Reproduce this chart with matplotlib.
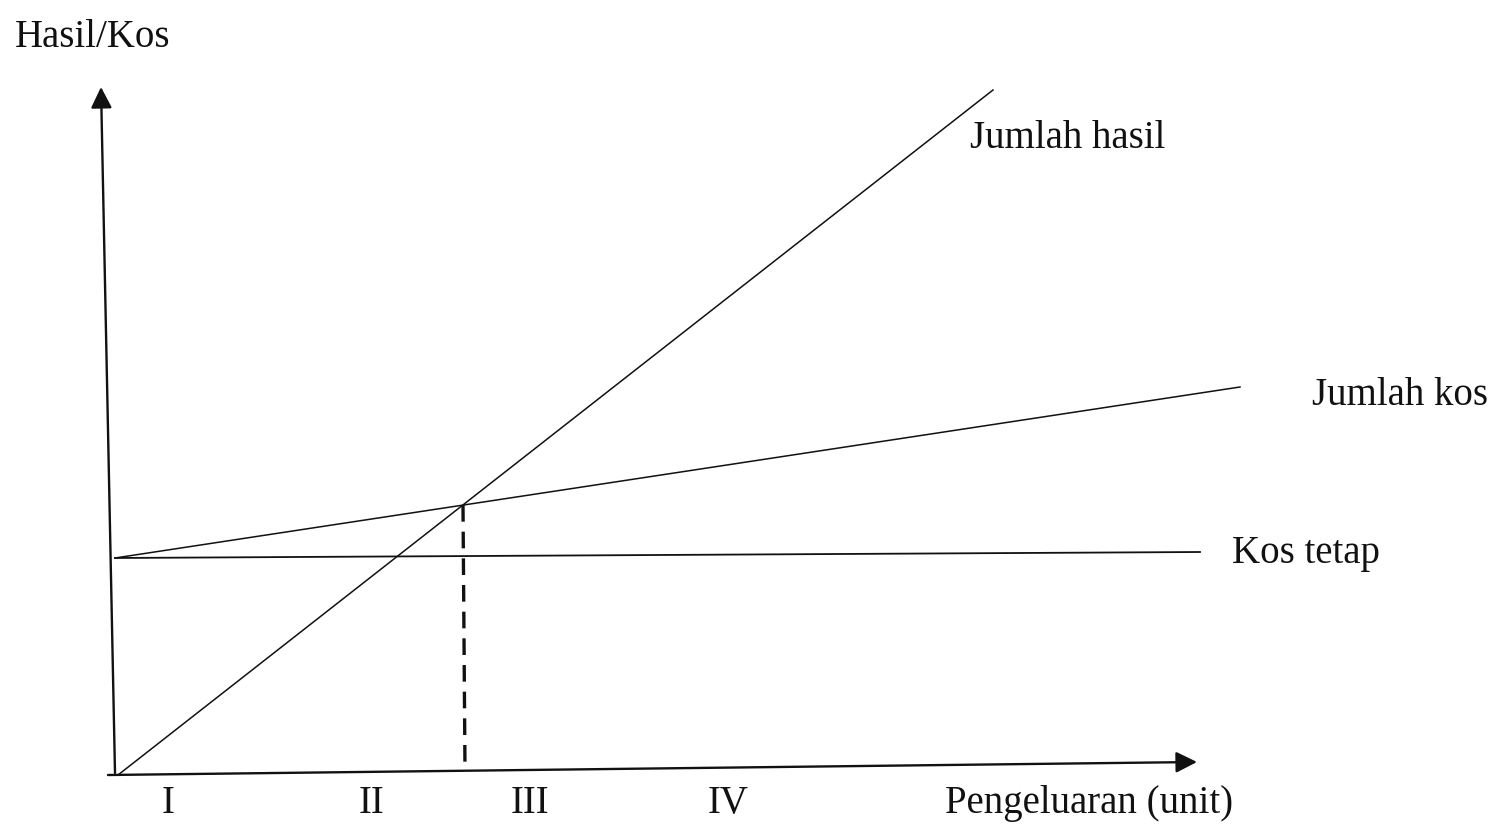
import matplotlib.pyplot as plt

plt.rcParams['font.family'] = ['Liberation Serif', 'DejaVu Serif']

# Schematic break-even chart (units: output on x, hasil/kos on y)
hasil_x = [3, 878]
hasil_y = [-2, 683]
kos_x = [0, 1125]
kos_y = [215, 386]
tetap_x = [0, 1085]
tetap_y = [215, 221]
break_even_x = [348, 350]
break_even_y = [268, 3]

zone_labels = ['I', 'II', 'III', 'IV']
zone_x = [53, 257, 415, 613]

# axis arrows (start, end)
y_axis = [(0, 0), (-14, 686)]
x_axis = [(-7, -2), (1082, 11)]

fig = plt.figure(figsize=(14.94, 8.24), dpi=100)
ax = fig.add_axes([0, 0, 1, 1])
ax.set_xlim(-115, 1379)
ax.set_ylim(-51, 773)
ax.axis('off')

ink = '#111111'

for (start, end) in (y_axis, x_axis):
    ax.annotate('', xy=end, xytext=start,
                arrowprops=dict(arrowstyle='-|>', color=ink, lw=1.7,
                                mutation_scale=32, shrinkA=0, shrinkB=0))

ax.plot(hasil_x, hasil_y, color=ink, lw=1.1)
ax.plot(kos_x, kos_y, color=ink, lw=1.1)
ax.plot(tetap_x, tetap_y, color=ink, lw=1.3)
ax.plot(break_even_x, break_even_y, color=ink, lw=2.4, dashes=(5, 3))

fs = 28
ax.text(-100, 726, 'Hasil/Kos', fontsize=fs, va='baseline', ha='left', color=ink)
ax.text(855, 625, 'Jumlah hasil', fontsize=fs, va='baseline', ha='left', color=ink)
ax.text(1197, 368, 'Jumlah kos', fontsize=fs, va='baseline', ha='left', color=ink)
ax.text(1117, 210, 'Kos tetap', fontsize=fs, va='baseline', ha='left', color=ink)
for lab, x in zip(zone_labels, zone_x):
    ax.text(x, -40, lab, fontsize=fs, va='baseline', ha='center', color=ink)
ax.text(830, -40, 'Pengeluaran (unit)', fontsize=fs, va='baseline', ha='left', color=ink)

fig.savefig('out.png', dpi=100)
